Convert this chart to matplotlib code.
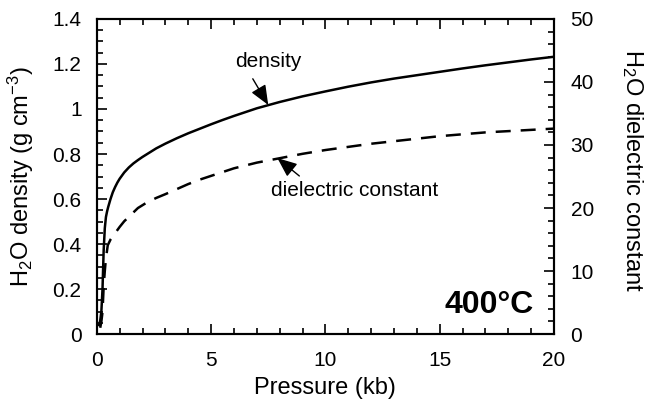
#!/usr/bin/env python3
import matplotlib
matplotlib.use('Agg')
import matplotlib.pyplot as plt
from matplotlib.ticker import MultipleLocator

plt.rcParams['font.family'] = ['Liberation Sans', 'DejaVu Sans']
plt.rcParams['mathtext.fontset'] = 'custom'
plt.rcParams['mathtext.rm'] = 'Liberation Sans'
plt.rcParams['mathtext.it'] = 'Liberation Sans:italic'

# density of water at 400 C (g/cm3) vs pressure (kb)
dens_p = [0.1, 0.15, 0.2, 0.25, 0.3, 0.35, 0.4, 0.45, 0.5, 0.6, 0.7, 0.8,
          0.9, 1.0, 1.2, 1.4, 1.6, 1.8, 2.0, 2.3, 2.6, 3.0, 3.5, 4.0, 4.5,
          5.0, 5.5, 6.0, 7, 8, 9, 10, 11, 12, 13, 14, 15, 16, 17, 18, 19, 20]
dens = [0.04, 0.06, 0.1, 0.2, 0.37, 0.47, 0.52, 0.545, 0.565, 0.60, 0.63,
        0.653, 0.673, 0.69, 0.718, 0.740, 0.758, 0.773, 0.787, 0.806, 0.825,
        0.846, 0.870, 0.892, 0.912, 0.932, 0.951, 0.969, 1.003, 1.031, 1.056,
        1.078, 1.099, 1.118, 1.135, 1.150, 1.165, 1.180, 1.194, 1.207, 1.220,
        1.232]

# dielectric constant vs pressure (kb)
diel_p = [0.15, 0.2, 0.25, 0.3, 0.35, 0.4, 0.48, 0.6, 0.8, 1.0, 1.2, 1.4,
          1.8, 2.2, 2.6, 3.0, 3.5, 4.0, 4.5, 5.0, 6, 7, 8, 9, 10, 11, 12,
          13, 14, 15, 16, 17, 18, 19, 20]
diel = [1.0, 2.0, 3.5, 7.5, 10.0, 12.0, 14.1, 15.0, 16.0, 17.0, 17.9, 18.6,
        20.0, 20.9, 21.6, 22.2, 23.0, 23.8, 24.5, 25.1, 26.3, 27.2, 27.9,
        28.6, 29.2, 29.7, 30.2, 30.6, 31.0, 31.4, 31.7, 32.0, 32.2, 32.4,
        32.6]

x_ticks = [0, 5, 10, 15, 20]
left_ticks = [0, 0.2, 0.4, 0.6, 0.8, 1.0, 1.2, 1.4]
left_labels = ['0', '0.2', '0.4', '0.6', '0.8', '1', '1.2', '1.4']
right_ticks = [0, 10, 20, 30, 40, 50]

fig = plt.figure(figsize=(6.54, 4.03), dpi=100)
ax = fig.add_axes([0.148, 0.171, 0.699, 0.782])
ax2 = ax.twinx()

ax.plot(dens_p, dens, color='black', lw=1.8)
ax2.plot(diel_p, diel, color='black', lw=1.8, dashes=(6, 4))

ax.set_xlim(0, 20)
ax.set_ylim(0, 1.4)
ax2.set_ylim(0, 50)

ax.set_xticks(x_ticks)
ax.set_yticks(left_ticks)
ax.set_yticklabels(left_labels)
ax2.set_yticks(right_ticks)
ax.xaxis.set_minor_locator(MultipleLocator(1))
ax.yaxis.set_minor_locator(MultipleLocator(0.05))
ax2.yaxis.set_minor_locator(MultipleLocator(2))

ax.tick_params(axis='x', which='both', direction='in', top=True, width=1.2,
               labelsize=15, pad=12)
ax.tick_params(axis='y', which='both', direction='in', right=False, width=1.2,
               labelsize=15, pad=11)
ax.tick_params(which='major', length=7)
ax.tick_params(which='minor', length=4)
ax2.tick_params(axis='y', which='both', direction='in', width=1.2,
                labelsize=15, pad=12)
ax2.tick_params(which='major', length=7)
ax2.tick_params(which='minor', length=4)

for a in (ax, ax2):
    for s in a.spines.values():
        s.set_linewidth(1.5)

xl = ax.set_xlabel('Pressure (kb)', fontsize=17)
xl.set_va('center')
ax.xaxis.set_label_coords(0.5, -0.17)
yl = ax.set_ylabel(r'H$_2$O density (g cm$^{\mathrm{-3}}$)', fontsize=17)
yl.set_va('center')
ax.yaxis.set_label_coords(-0.165, 0.5)
yr = ax2.set_ylabel(r'H$_2$O dielectric constant', fontsize=17, rotation=-90)
yr.set_va('center')
ax2.yaxis.set_label_coords(1.171, 0.52)

arrow = dict(arrowstyle='-|>,head_length=0.6,head_width=0.25',
             color='black', lw=1, mutation_scale=20, shrinkB=0)
ax.annotate('density', xy=(7.5, 1.018), xytext=(7.5, 1.21),
            ha='center', va='center', fontsize=15,
            arrowprops=dict(arrow, shrinkA=4, relpos=(0.2, 0.0)))
ax.annotate('dielectric constant', xy=(7.9, 0.782), xytext=(11.3, 0.64),
            ha='center', va='center', fontsize=15,
            arrowprops=dict(arrow, shrinkA=2, relpos=(0.2, 1.0)))

ax.text(19.1, 0.129, '400°C', ha='right', va='center', fontsize=23,
        fontweight='bold')

fig.savefig('out.png', dpi=100)
